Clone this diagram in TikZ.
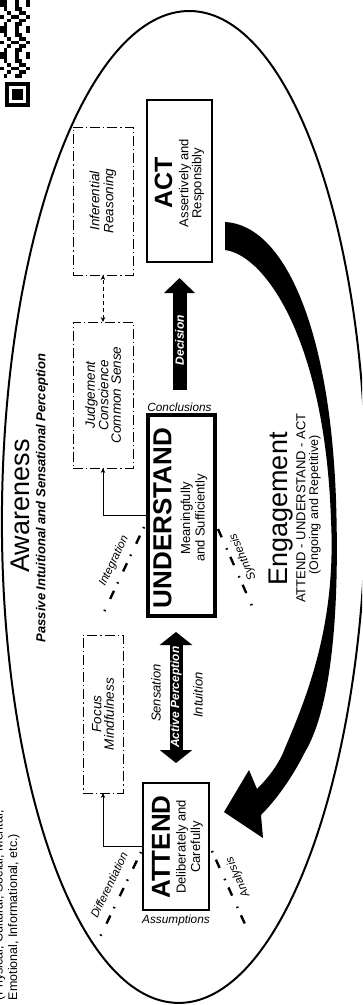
\documentclass[tikz,border=0pt]{standalone}
\usepackage{fontspec}
\setmainfont{Liberation Sans}
\usetikzlibrary{arrows.meta}
\newcommand{\fsz}[2]{\fontsize{#1}{#2}\selectfont}
\tikzset{
  lbl/.style={inner sep=0pt, outer sep=0pt, rotate=90, align=center},
  hlbl/.style={inner sep=0pt, outer sep=0pt},
  mainbox/.style={draw, line width=1.2pt, inner sep=0pt, outer sep=0pt},
  ddbox/.style={draw, line width=0.9pt, inner sep=0pt, outer sep=0pt, dash pattern=on 10pt off 3pt on 1.2pt off 3pt},
  conn/.style={line width=0.8pt, -{Stealth[length=5pt,width=4.5pt]}},
  dconn/.style={line width=0.8pt, dash pattern=on 4pt off 3pt, {Stealth[length=5pt,width=4.5pt]}-{Stealth[length=5pt,width=4.5pt]}},
  diag/.style={line width=2.4pt, dash pattern=on 1.5pt off 8pt on 9pt off 12pt},
  diaglbl/.style={inner sep=0pt, font=\fsz{11.5}{11.5}\itshape},
  boxtxt/.style={lbl, font=\fsz{13}{13}\itshape},
  sub/.style={lbl, font=\fsz{13}{13.5}},
  big/.style={lbl, font=\fsz{26}{26}\bfseries},
}
\begin{document}
\begin{tikzpicture}[x=1pt,y=-1pt]
\clip (0,0) rectangle (362,1005);
\fill[white] (0,0) rectangle (362,1005);

% QR code fragment
\foreach \c in {0,...,7}{
  \foreach \r in {0,...,20}{
    \pgfmathtruncatemacro\v{mod(\c*37+\r*11+\c*\r*7+\r*\r*3,7)<3}
    \ifnum\v=1 \fill (\c*3.7,\r*3.7) rectangle ++(3.7,3.7); \fi
  }
}
\fill (5,82) rectangle (30,107);
\fill[white] (8.6,85.6) rectangle (26.4,103.4);
\fill (12.2,89.2) rectangle (22.8,99.8);

% outer ellipse
\coordinate (ec) at (184,507);
\draw[line width=2pt, rotate around={-0.7:(ec)}] (ec) ellipse [x radius=182, y radius=496];

% engagement crescent arrow
\fill[black] (225,222) .. controls (285,225) and (330,330) .. (336,500)
  .. controls (340,620) and (330,710) .. (305,752)
  .. controls (292,778) and (276,800) .. (261,815)
  -- (263,838) -- (224,812) -- (249,770) -- (257,789)
  .. controls (270,776) and (280,762) .. (285,748)
  .. controls (310,690) and (336,620) .. (331,520)
  .. controls (325,340) and (265,255) .. (225,250) -- cycle;

% main boxes
\node[mainbox, minimum width=65pt, minimum height=162pt] (act) at (179.5,181) {};
\node[mainbox, line width=4pt, minimum width=67pt, minimum height=201pt] (und) at (181.5,515.5) {};
\node[mainbox, line width=1.4pt, minimum width=66pt, minimum height=127pt] (att) at (176,846.5) {};

% dash-dot boxes
\node[ddbox, minimum width=60pt, minimum height=148pt] (inf) at (103,201) {};
\node[ddbox, minimum width=60pt, minimum height=146pt] (jud) at (103,395) {};
\node[ddbox, minimum width=40pt, minimum height=158pt] (foc) at (103,714) {};

% box texts
\node[lbl, font=\fsz{25}{25}\bfseries] (actT) at (163.5,183) {ACT};
\node[sub, font=\fsz{13}{13}] (actS) at (191.5,183) {Assertively and\\Responsibly};
\node[big] (undT) at (162.5,518) {UNDERSTAND};
\node[sub, font=\fsz{13}{14.5}] (undS) at (194,518) {Meaningfully\\and Sufficiently};
\node[big] (attT) at (161,847) {ATTEND};
\node[sub, font=\fsz{13}{14.5}] (attS) at (189.5,847) {Deliberately and\\Carefully};

\node[boxtxt, font=\fsz{13.5}{14}\itshape] (infT) at (inf) {Inferential\\Reasoning};
\node[boxtxt, font=\fsz{13.5}{12.5}\itshape] (judT) at (jud) {Judgement\\Conscience\\Common Sense};
\node[boxtxt, font=\fsz{13.5}{12.5}\itshape] (focT) at (foc) {Focus\\Mindfulness};

\node[hlbl, font=\fsz{11.8}{11.8}\itshape] (concl) at (179.5,407) {Conclusions};
\node[hlbl, font=\fsz{11.8}{11.8}\itshape] (assum) at (176,920) {Assumptions};

% connectors
\draw[conn] (att.west) -| (foc.south);
\draw[conn] (und.west) -| (jud.south);
\draw[dconn] (jud.north) -- (inf.south);

% decision arrow
\draw[line width=14pt, -{Triangle[width=30pt,length=15pt]}, shorten <=25pt, shorten >=16pt]
  (und.north -| act.south) -- node[pos=0.49, lbl, text=white, font=\fsz{12}{12}\bfseries\itshape] (dec) {Decision} (act.south);

% active perception arrow
\draw[line width=13pt, {Triangle[width=32pt,length=13pt]}-{Triangle[width=32pt,length=13pt]}, shorten <=20pt, shorten >=16pt]
  (att.north) -- node[pos=0.515, lbl, text=white, font=\fsz{12}{12}\bfseries\itshape] (ap) {Active Perception} (att.north |- und.south);
\node[boxtxt] (sens) at (156,693) {Sensation};
\node[boxtxt] (intu) at (198,695) {Intuition};

% diagonal dash-dot lines
\coordinate (i1) at (144,527); \coordinate (i2) at (104,612);
\draw[diag] (i1) -- (i2);
\node[diaglbl, rotate=64.8] (intl) at (114,561) {Integration};
\coordinate (s1) at (218,529); \coordinate (s2) at (252,606);
\draw[diag, dash pattern=on 9pt off 12pt on 1.5pt off 8pt] (s1) -- (s2);
\node[diaglbl, rotate=113.8] (synl) at (243,557) {Synthesis};
\coordinate (d1) at (141,852); \coordinate (d2) at (100,937);
\draw[diag] (d1) -- (d2);
\node[diaglbl, rotate=64.25] (difl) at (109,885) {Differentiation};
\coordinate (a1) at (212,851); \coordinate (a2) at (249,933);
\draw[diag] (a1) -- (a2);
\node[diaglbl, rotate=114.3] (anal) at (238,877) {Analysis};

% large titles
\node[lbl, font=\fsz{27}{27}] (aw) at (20,506) {Awareness};
\node[lbl, font=\fsz{13}{13}\bfseries\itshape] (aw2) at (42,498) {Passive Intuitional and Sensational Perception};
\node[lbl, font=\fsz{27}{27}] (eng) at (281,509) {Engagement};
\node[lbl, font=\fsz{13}{13}] (eng2) at (301,508) {ATTEND - UNDERSTAND - ACT};
\node[lbl, font=\fsz{12.5}{12.5}] (eng3) at (315,505) {(Ongoing and Repetitive)};

% domains note (cut at the edge)
\node[lbl, anchor=base west, font=\fsz{12.5}{12.5}] (dom1) at (2.5,1000) {(Physical, Cultural, Social, Mental,};
\node[lbl, anchor=base west, font=\fsz{12.5}{12.5}] (dom2) at (17,1000) {Emotional, Informational, etc.)};
\end{tikzpicture}
\end{document}
